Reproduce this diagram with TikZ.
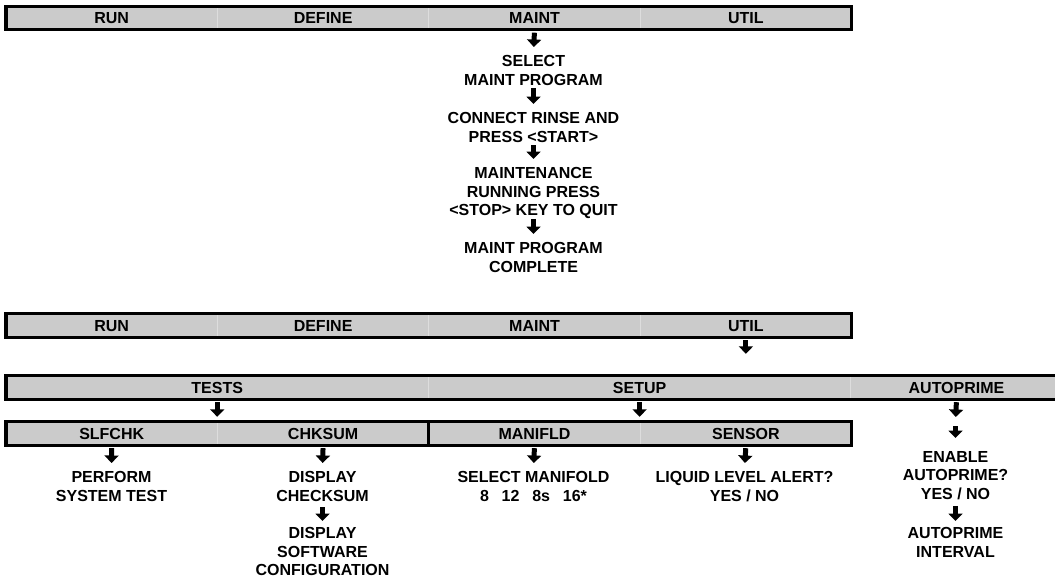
\documentclass[tikz,border=0pt]{standalone}
\usepackage{fontspec}
\setmainfont{Liberation Sans}
\usetikzlibrary{positioning,arrows.meta}

\definecolor{barfill}{HTML}{CBCBCB}
\definecolor{barsep}{HTML}{DDDDDD}

\tikzset{
  cell/.style={fill=barfill,minimum width=211pt,minimum height=23pt,inner sep=0pt,
    text height=11.5pt,text depth=0pt,
    font=\bfseries\fontsize{16}{18.7}\selectfont},
  msg/.style={anchor=north,align=center,inner sep=0pt,text depth=0pt,
    font=\bfseries\fontsize{16}{18.7}\selectfont},
  barline/.style={line width=3.2pt},
  sepline/.style={barsep,line width=0.8pt},
  flow/.style={line width=5pt,-{Triangle[width=14pt,length=7.5pt]},
    shorten <=3pt,shorten >=8pt},
}

\begin{document}
\begin{tikzpicture}[x=1pt,y=-1pt]
\useasboundingbox (0,0) rectangle (1055,582);
\clip (0,0) rectangle (1055,582);

% main menu, MAINT selected
\node[cell,anchor=west] (run) at (6,18) {RUN};
\node[cell,right=0pt of run] (define) {DEFINE};
\node[cell,right=0pt of define] (maint) {MAINT};
\node[cell,right=0pt of maint] (util) {UTIL};
\foreach \c in {run,define,maint}
  \draw[sepline] (\c.north east) -- (\c.south east);
\draw[barline] (run.north west) rectangle (util.south east);

\node[msg] (selprog) at (533.5,55) {SELECT\\MAINT PROGRAM};
\node[msg] (rinse) at (533.5,112) {CONNECT RINSE AND\\PRESS <START>};
\node[msg] (running) at (533.5,167) {MAINTENANCE\\RUNNING PRESS\\<STOP> KEY TO QUIT};
\node[msg] (complete) at (533.5,242) {MAINT PROGRAM\\COMPLETE};

\draw[flow] (maint.south) -- (selprog.north);
\draw[flow] (selprog.south) -- (rinse.north);
\draw[flow] (rinse.south) -- (running.north);
\draw[flow] (running.south) -- (complete.north);

% main menu, UTIL selected
\node[cell,anchor=west] (run2) at (6,325.5) {RUN};
\node[cell,right=0pt of run2] (define2) {DEFINE};
\node[cell,right=0pt of define2] (maint2) {MAINT};
\node[cell,right=0pt of maint2] (util2) {UTIL};
\foreach \c in {run2,define2,maint2}
  \draw[sepline] (\c.north east) -- (\c.south east);
\draw[barline] (run2.north west) rectangle (util2.south east);

% utility submenu
\node[cell,anchor=west,minimum width=422pt] (tests) at (6,387.5) {TESTS};
\node[cell,right=0pt of tests,minimum width=422pt] (setup) {SETUP};
\node[cell,right=0pt of setup] (autoprime) {AUTOPRIME};
\foreach \c in {tests,setup}
  \draw[sepline] (\c.north east) -- (\c.south east);
\draw[barline] (tests.north west) rectangle (autoprime.south east);

\node[cell,anchor=west] (slfchk) at (6,433.5) {SLFCHK};
\node[cell,right=0pt of slfchk] (chksum) {CHKSUM};
\node[cell,right=0pt of chksum] (manifld) {MANIFLD};
\node[cell,right=0pt of manifld] (sensor) {SENSOR};
\foreach \c in {slfchk,manifld}
  \draw[sepline] (\c.north east) -- (\c.south east);
\draw[barline] (slfchk.north west) rectangle (sensor.south east);
\draw[barline] (chksum.north east) -- (chksum.south east);

\draw[flow,shorten >=22pt] (util2.south) -- (util2.south |- setup.north);
\draw[flow,shorten >=5pt] (tests.south) -- (tests.south |- slfchk.north);
\draw[flow,shorten >=5pt] (setup.south) -- (setup.south |- slfchk.north);

\coordinate (apmid) at (955.5,422);
\draw[flow,shorten >=5pt] (autoprime.south) -- (apmid);

\node[msg] (systest) at (111.5,471) {PERFORM\\SYSTEM TEST};
\node[msg] (checksum) at (322.5,471) {DISPLAY\\CHECKSUM};
\node[msg] (swconfig) at (322.5,527) {DISPLAY\\SOFTWARE\\CONFIGURATION};
\node[msg] (selmani) at (533.5,471) {SELECT MANIFOLD\\8\hspace{0.8em}12\hspace{0.8em}8s\hspace{0.8em}16*};
\node[msg] (liquid) at (744.5,471) {LIQUID LEVEL ALERT?\\YES / NO};
\node[msg] (enable) at (955.5,451) {ENABLE\\AUTOPRIME?\\YES / NO};
\node[msg] (interval) at (955.5,527) {AUTOPRIME\\INTERVAL};

\draw[flow] (slfchk.south) -- (systest.north);
\draw[flow] (chksum.south) -- (checksum.north);
\draw[flow,shorten <=6pt,shorten >=6pt] (checksum.south) -- (swconfig.north);
\draw[flow] (manifld.south) -- (selmani.north);
\draw[flow] (sensor.south) -- (liquid.north);
\draw[flow,shorten <=4pt,shorten >=13pt] (apmid) -- (enable.north);
\draw[flow,shorten <=6pt,shorten >=6pt] (enable.south) -- (interval.north);
\end{tikzpicture}
\end{document}
